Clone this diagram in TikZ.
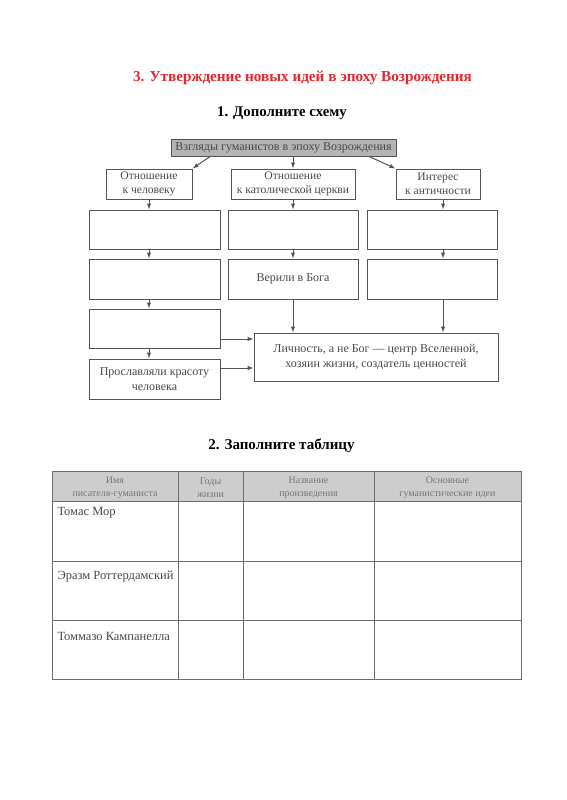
\documentclass[tikz,border=0pt]{standalone}
\usepackage{fontspec}
\setmainfont{Liberation Serif}
\usepackage{xcolor}
\usetikzlibrary{positioning,arrows.meta}

\definecolor{titlered}{HTML}{E8262B}
\definecolor{scanline}{HTML}{555555}
\definecolor{scantext}{HTML}{484848}
\definecolor{scanfill}{HTML}{B4B4B4}
\definecolor{headfill}{HTML}{CDCDCD}

\begin{document}
\begin{tikzpicture}[x=1pt,y=-1pt,>={Latex[length=6pt,width=4.5pt]},
  box/.style={draw=scanline,line width=1pt,text=scantext,align=center,
    inner sep=0pt,font=\fontsize{12}{14.5}\selectfont},
  small/.style={font=\fontsize{11.6}{14.5}\selectfont},
  link/.style={->,draw=scanline,line width=1pt},
  grid/.style={draw=scanline!85,line width=1pt},
  cell/.style={text=scantext,font=\fontsize{12.5}{15}\selectfont},
  headcell/.style={text=scantext!75,align=center,font=\fontsize{10}{13}\selectfont}]
  \useasboundingbox (0,0) rectangle (566,800);
  % headings
  \node[text=titlered,font=\fontsize{15.2}{18}\bfseries] (title) at (302.5,78)
    {3. Утверждение новых идей в эпоху Возрождения};
  \node[font=\fontsize{14.8}{18}\bfseries] (task1) at (282,113) {1. Дополните схему};
  \node[font=\fontsize{15}{18}\bfseries] (task2) at (281.5,446) {2. Заполните таблицу};
  % scheme: top and second row
  \node[box,fill=scanfill,minimum width=225,minimum height=17,text depth=1pt] (top) at (283.5,147.5)
    {Взгляды гуманистов в эпоху Возрождения};
  \node[box,small,minimum width=86,minimum height=30] (r2l) at (149,184) {Отношение\\к человеку};
  \node[box,small,minimum width=124,minimum height=30] (r2m) at (293,184) {Отношение\\к католической церкви};
  \node[box,small,minimum width=84,minimum height=30] (r2r) at (438,184) {Интерес\\к античности};
  % empty cells, rows 3 and 4
  \node[box,minimum width=131,minimum height=39] (r3l) at (154.5,229.5) {};
  \node[box,minimum width=130,minimum height=39] (r3m) at (293,229.5) {};
  \node[box,minimum width=130,minimum height=39] (r3r) at (432,229.5) {};
  \node[box,minimum width=131,minimum height=40] (r4l) at (154.5,279) {};
  \node[box,minimum width=130,minimum height=40] (r4m) at (293,279) {Верили в Бога};
  \node[box,minimum width=130,minimum height=40] (r4r) at (432,279) {};
  % left column, rows 5 and 6
  \node[box,minimum width=131,minimum height=39] (r5l) at (154.5,328.5) {};
  \node[box,minimum width=131,minimum height=40] (r6l) at (154.5,379) {Прославляли красоту\\человека};
  \node[box,minimum width=244,minimum height=48] (big) at (376,357)
    {Личность, а не Бог — центр Вселенной,\\хозяин жизни, создатель ценностей};
  \coordinate (cr) at (443,0);
  % arrows
  \draw[link] (top.187) -- (r2l.north east);
  \draw[link] (r2m.north |- top.south) -- (r2m.north);
  \draw[link] (top.354) -- (r2r.north west);
  \draw[link] (r2l.south) -- (r2l.south |- r3l.north);
  \draw[link] (r2m.south) -- (r3m.north);
  \draw[link] (r2r.south -| cr) -- (r3r.north -| cr);
  \draw[link] (r3l.south -| r2l.south) -- (r4l.north -| r2l.south);
  \draw[link] (r3m.south) -- (r4m.north);
  \draw[link] (r3r.south -| cr) -- (r4r.north -| cr);
  \draw[link] (r4l.south -| r2l.south) -- (r5l.north -| r2l.south);
  \draw[link] (r5l.south -| r2l.south) -- (r6l.north -| r2l.south);
  \draw[link] (r4m.south) -- (big.north -| r4m.south);
  \draw[link] (r4r.south -| cr) -- (big.north -| cr);
  \draw[link] ([yshift=-10.5pt]r5l.east) -- ([yshift=-10.5pt]r5l.east -| big.west);
  \draw[link] ([yshift=11pt]r6l.east) -- ([yshift=11pt]r6l.east -| big.west);
  % table
  \fill[headfill] (52,471) rectangle (521,501);
  \draw[grid] (52,471) rectangle (521,679);
  \foreach \y in {501,561,620} \draw[grid] (52,\y) -- (521,\y);
  \foreach \x in {178,243,374} \draw[grid] (\x,471) -- (\x,679);
  \node[headcell] (h1) at (115,487.5) {Имя\\писателя-гуманиста};
  \node[headcell] (h2) at (210.5,487.5) {Годы\\жизни};
  \node[headcell] (h3) at (308.5,487.5) {Название\\произведения};
  \node[headcell] (h4) at (447.5,487.5) {Основные\\гуманистические идеи};
  \node[cell,anchor=west] (n1) at (54,513) {Томас Мор};
  \node[cell,anchor=west] (n2) at (54,577) {Эразм Роттердамский};
  \node[cell,anchor=west] (n3) at (54,636) {Томмазо Кампанелла};
\end{tikzpicture}
\end{document}
